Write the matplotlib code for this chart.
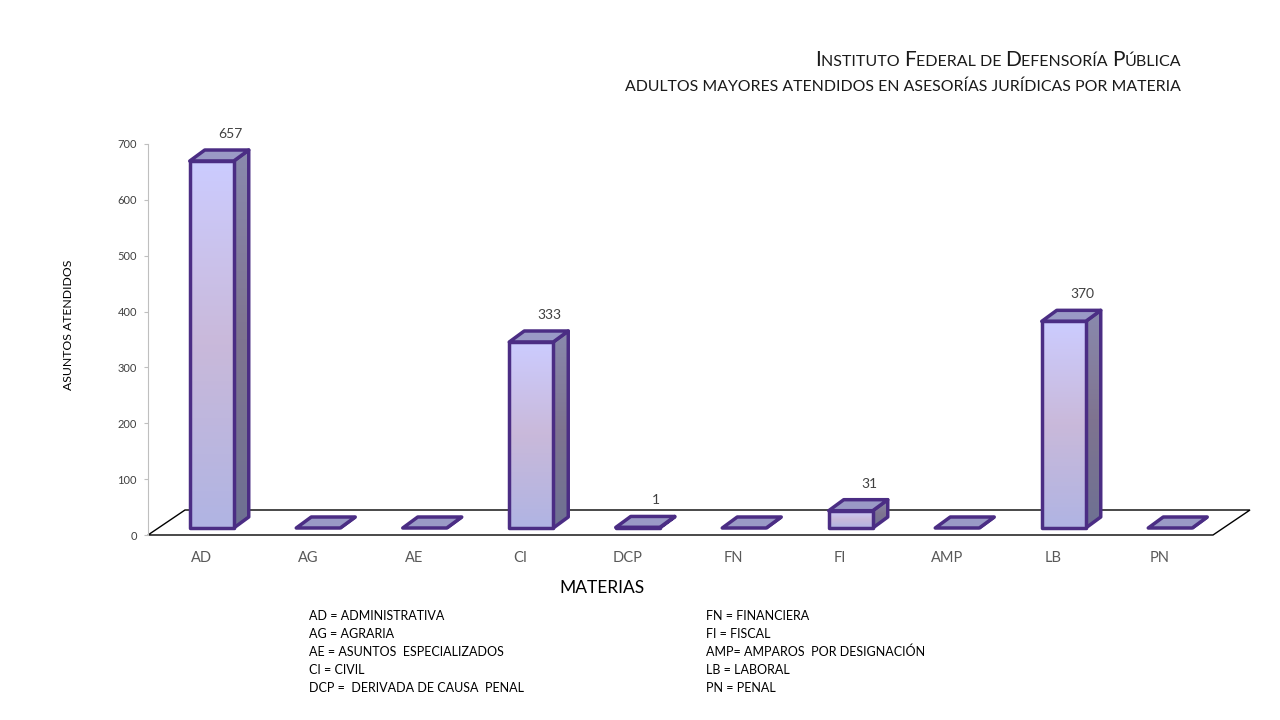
import numpy as np
import matplotlib
matplotlib.use("Agg")
import matplotlib.pyplot as plt
from matplotlib.patches import Polygon, Rectangle
from matplotlib.colors import LinearSegmentedColormap

plt.rcParams['font.family'] = ['Lato', 'DejaVu Sans']

categories = ["AD", "AG", "AE", "CI", "DCP", "FN", "FI", "AMP", "LB", "PN"]
values = [657, 0, 0, 333, 1, 0, 31, 0, 370, 0]
y_ticks = [0, 100, 200, 300, 400, 500, 600, 700]

legend_left = ["AD = ADMINISTRATIVA", "AG = AGRARIA", "AE = ASUNTOS  ESPECIALIZADOS",
               "CI = CIVIL", "DCP =  DERIVADA DE CAUSA  PENAL"]
legend_right = ["FN = FINANCIERA", "FI = FISCAL", "AMP= AMPAROS  POR DESIGNACIÓN",
                "LB = LABORAL", "PN = PENAL"]

title_pieces = [("I", True), ("NSTITUTO ", False), ("F", True), ("EDERAL DE ", False),
                ("D", True), ("EFENSORÍA ", False), ("P", True), ("ÚBLICA", False)]
subtitle = "ADULTOS MAYORES ATENDIDOS EN ASESORÍAS JURÍDICAS POR MATERIA"

W, H = 1280, 720
EDGE = "#4b2d84"
front_cmap = LinearSegmentedColormap.from_list("front", ["#b0b4e3", "#c9b9da", "#ccccff"])
side_cmap = LinearSegmentedColormap.from_list("side", ["#6e7193", "#7f7490", "#8a8aae"])
TOP = "#9a9ac6"

fig = plt.figure(figsize=(12.8, 7.2), dpi=100)
ax = fig.add_axes([148 / W, 1 - 535 / H, 1065 / W, 391 / H])
ax.set_xlim(-0.5, len(categories) - 0.5)
ax.set_ylim(0, 700)
ax.set_autoscale_on(False)
ax.patch.set_visible(False)

# pixels per data unit
p0 = ax.transData.transform((0, 0))
p1 = ax.transData.transform((1, 1))
kx, ky = p1 - p0


def px(dx, dy):
    return dx / kx, dy / ky


# floor of the 3d chart
fx, fy = px(37, 25)
x0, x1 = -0.5, len(categories) - 0.5
floor = Polygon([(x0, 0), (x1, 0), (x1 + fx, fy), (x0 + fx, fy)], closed=True,
                facecolor="white", edgecolor="black", lw=1, zorder=1, clip_on=False)
ax.add_patch(floor)

sx, sy = px(10.5, 7)      # bar position inside the floor depth
bw, _ = px(44, 0)         # front width
dx, dy = px(15, 11)       # bar depth
grad = np.linspace(0, 1, 256).reshape(-1, 1)

for i, v in enumerate(values):
    left = i + sx - bw / 2
    right = i + sx + bw / 2
    bot = sy
    top = sy + v
    z = 3 + i

    side = Polygon([(right, bot), (right + dx, bot + dy), (right + dx, top + dy), (right, top)],
                   closed=True, facecolor="none", edgecolor=EDGE, lw=2.5, zorder=z + 0.2,
                   joinstyle="round", clip_on=False)
    ax.add_patch(side)
    if v > 0:
        im = ax.imshow(grad, cmap=side_cmap, origin="lower", aspect="auto",
                       extent=(right, right + dx, bot, top + dy), zorder=z + 0.1)
        im.set_clip_path(side)

    lid = Polygon([(left, top), (right, top), (right + dx, top + dy), (left + dx, top + dy)],
                  closed=True, facecolor=TOP, edgecolor=EDGE, lw=2.5, zorder=z + 0.3,
                  joinstyle="round", clip_on=False)
    ax.add_patch(lid)

    if v > 0:
        face = Rectangle((left, bot), bw, v, facecolor="none", edgecolor=EDGE, lw=2.5,
                         zorder=z + 0.5, joinstyle="round", clip_on=False)
        ax.add_patch(face)
        im = ax.imshow(grad, cmap=front_cmap, origin="lower", aspect="auto",
                       extent=(left, right, bot, top), zorder=z + 0.4)
        im.set_clip_path(face)

        ax.annotate(str(v), (i, v), xytext=(29 * 0.72, 34 * 0.72), textcoords="offset points",
                    ha="center", va="center", fontsize=10, color="#404040", zorder=20)

ax.set_xlim(-0.5, len(categories) - 0.5)
ax.set_ylim(0, 700)

ax.set_xticks(range(len(categories)))
ax.set_xticklabels(categories)
ax.set_yticks(y_ticks)
ax.tick_params(axis="x", length=0, pad=11.5, labelsize=10.5, labelcolor="#595959")
ax.tick_params(axis="y", length=3, width=0.8, color="#bfbfbf", pad=5, labelsize=8,
               labelcolor="#404040")
for s in ["top", "right", "bottom"]:
    ax.spines[s].set_visible(False)
ax.spines["left"].set_color("#bfbfbf")
ax.spines["left"].set_linewidth(0.8)

fig.text(68 / W, 1 - 325 / H, "ASUNTOS ATENDIDOS", rotation=90, ha="center", va="center",
         fontsize=8.8, color="black")
fig.text(602 / W, 1 - 588 / H, "MATERIAS", ha="center", va="center", fontsize=12.5,
         color="black")

# title with small caps made of two sizes
renderer = fig.canvas.get_renderer()
x = 1181
for txt, big in reversed(title_pieces):
    t = fig.text(x / W, 1 - 66 / H, txt, fontsize=15 if big else 11.5, ha="right",
                 va="baseline", color="#1a1a1a")
    x -= t.get_window_extent(renderer).width
fig.text(1181 / W, 1 - 91 / H, subtitle, fontsize=11.4, ha="right", va="baseline",
         color="#1a1a1a")

for k, txt in enumerate(legend_left):
    fig.text(309 / W, 1 - (616 + 18 * k) / H, txt, fontsize=9, va="center", color="black")
for k, txt in enumerate(legend_right):
    fig.text(706 / W, 1 - (616 + 18 * k) / H, txt, fontsize=9, va="center", color="black")

fig.savefig("out.png", dpi=100, facecolor="white")
